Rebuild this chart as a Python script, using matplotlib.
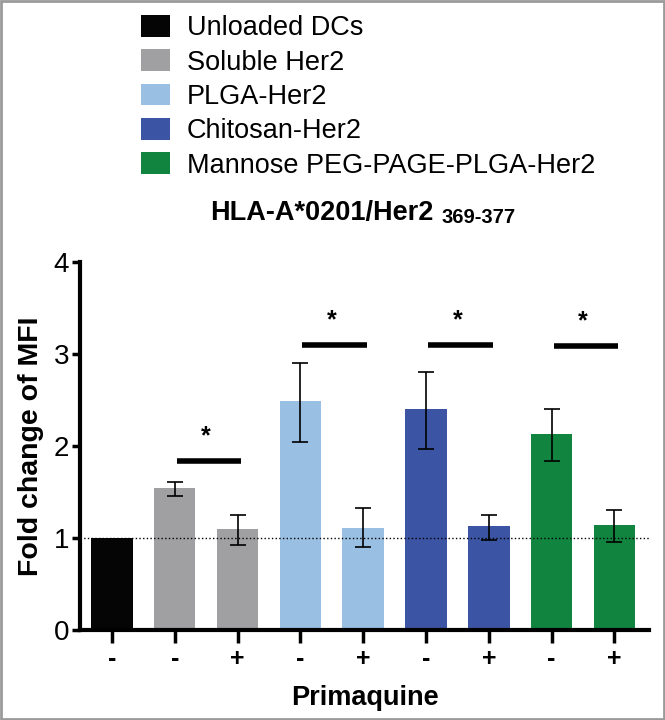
import matplotlib
matplotlib.use('Agg')
import matplotlib.pyplot as plt
from matplotlib.patches import Patch, Rectangle

plt.rcParams['font.family'] = ['Liberation Sans', 'DejaVu Sans']

groups = ['Unloaded DCs', 'Soluble Her2', 'PLGA-Her2', 'Chitosan-Her2',
          'Mannose PEG-PAGE-PLGA-Her2']
group_colors = ['#050505', '#a0a0a3', '#99bfe3', '#3b54a4', '#118440']

# one entry per bar
bar_group = [0, 1, 1, 2, 2, 3, 3, 4, 4]
primaquine = ['-', '-', '+', '-', '+', '-', '+', '-', '+']
means = [1.0, 1.54, 1.10, 2.49, 1.11, 2.40, 1.13, 2.13, 1.14]
err_low = [None, 1.46, 0.92, 2.04, 0.90, 1.97, 0.98, 1.84, 0.96]
err_high = [None, 1.61, 1.25, 2.90, 1.33, 2.80, 1.25, 2.40, 1.30]

# significance brackets: (left bar, right bar, height)
sig_pairs = [(1, 2, 1.84), (3, 4, 3.10), (5, 6, 3.10), (7, 8, 3.09)]

fig = plt.figure(figsize=(6.65, 7.2), dpi=100)
ax = fig.add_axes([0.121, 0.125, 0.855, 0.511])

x = list(range(len(means)))
colors = [group_colors[g] for g in bar_group]
ax.bar(x, means, width=0.66, color=colors, zorder=2)

for i in x:
    if err_low[i] is None:
        continue
    ax.errorbar(i, means[i],
                yerr=[[means[i] - err_low[i]], [err_high[i] - means[i]]],
                fmt='none', ecolor='black', elinewidth=1.2, capsize=6,
                capthick=1.2, zorder=3)

ax.axhline(1.0, color='black', linestyle=':', linewidth=1, zorder=4)

for a, b, h in sig_pairs:
    ax.plot([a + 0.03, b + 0.06], [h, h], color='black', linewidth=4,
            solid_capstyle='butt', zorder=4)
    ax.text((a + b) / 2, h + 0.14, '*', ha='center', va='bottom',
            fontsize=18, fontweight='bold')

ax.set_xlim(-0.5, 8.55)
ax.set_ylim(0, 4)
ax.set_yticks([0, 1, 2, 3, 4])
ax.set_xticks(x)
ax.set_xticklabels(primaquine, fontsize=18, fontweight='bold')
ax.tick_params(axis='y', labelsize=20, width=2.5, length=6, direction='out',
               pad=2)
ax.tick_params(axis='x', width=2.5, length=9, direction='out', pad=3)

for side in ['top', 'right']:
    ax.spines[side].set_visible(False)
for side in ['left', 'bottom']:
    ax.spines[side].set_linewidth(3)

ax.set_ylabel('Fold change of MFI', fontsize=20.5, fontweight='bold', labelpad=7)
ax.set_xlabel('Primaquine', fontsize=19.5, fontweight='bold', labelpad=10)

handles = [Patch(facecolor=c, edgecolor='none') for c in group_colors]
fig.legend(handles, groups, loc='upper left', bbox_to_anchor=(0.195, 0.994),
           frameon=False, fontsize=19.5, handlelength=1.1, handleheight=0.85,
           handletextpad=0.6, labelspacing=0.3, borderaxespad=0)

fig.text(0.316, 0.695, 'HLA-A*0201/Her2', fontsize=19.5, fontweight='bold',
         ha='left', va='baseline')
fig.text(0.664, 0.690, '369-377', fontsize=14.5, fontweight='bold',
         ha='left', va='baseline')

fig.patches.append(Rectangle((0.002, 0.002), 0.996, 0.996,
                             transform=fig.transFigure, fill=False,
                             edgecolor='#9a9a9a', linewidth=2))

fig.savefig('out.png', dpi=100)
